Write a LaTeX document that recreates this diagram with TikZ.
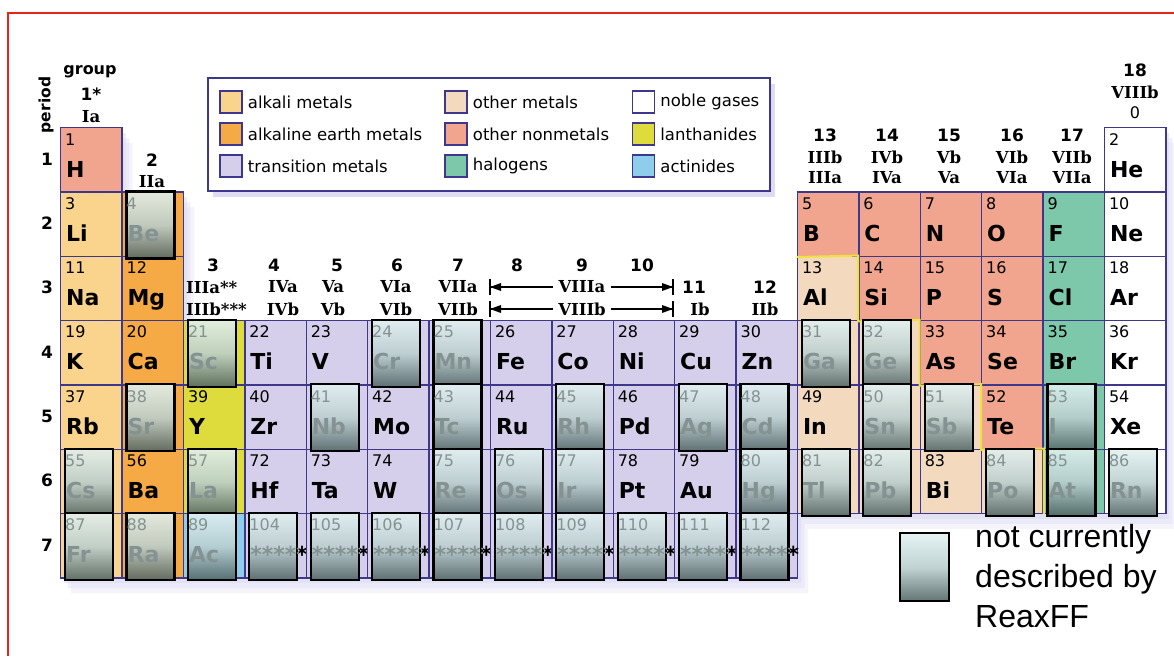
\documentclass[tikz,border=0pt]{standalone}
\usepackage{fontspec}
\setmainfont{DejaVu Sans}
\newfontfamily\romfont{DejaVu Serif}
\newfontfamily\arialfont{Liberation Sans}
\usetikzlibrary{positioning,shadows}
\definecolor{edge}{RGB}{62,56,140}
\definecolor{alkcol}{RGB}{250,212,140}
\definecolor{earthcol}{RGB}{245,170,70}
\definecolor{transcol}{RGB}{214,207,235}
\definecolor{metcol}{RGB}{243,218,190}
\definecolor{noncol}{RGB}{241,165,142}
\definecolor{halocol}{RGB}{125,200,170}
\definecolor{lancol}{RGB}{221,220,60}
\definecolor{actcol}{RGB}{142,205,235}
\definecolor{reaxtop}{RGB}{226,242,242}
\definecolor{reaxmid}{RGB}{186,206,206}
\definecolor{reaxbot}{RGB}{78,98,98}
\definecolor{reaxtext}{RGB}{132,146,146}
\definecolor{shadowcol}{RGB}{222,220,244}
\definecolor{framered}{RGB}{232,36,24}
\definecolor{stairyel}{RGB}{240,225,60}

\begin{document}
\begin{tikzpicture}[x=1pt,y=1pt,
    every node/.style={inner sep=0pt},
    cell/.style={draw=edge, line width=1.4pt, minimum width=61.4pt, minimum height=64.3pt, anchor=north west},
    alk/.style={fill=alkcol}, earth/.style={fill=earthcol}, trans/.style={fill=transcol},
    met/.style={fill=metcol}, non/.style={fill=noncol}, halo/.style={fill=halocol},
    lan/.style={fill=lancol}, act/.style={fill=actcol}, noble/.style={fill=white},
    znum/.style={anchor=base west, font=\fontsize{16}{18}\selectfont},
    zsym/.style={anchor=base west, font=\fontsize{22}{26}\selectfont\bfseries},
    reax/.style={draw=black, line width=2.2pt, top color=reaxtop, bottom color=reaxbot, middle color=reaxmid,
                 fill opacity=0.88, minimum width=48pt, minimum height=67pt, anchor=north west},
    grp/.style={font=\fontsize{17}{19}\selectfont\bfseries},
    rom/.style={font=\fontsize{16.5}{19}\selectfont\romfont\bfseries},
    swatch/.style={draw=edge, line width=1.4pt, minimum width=22pt, minimum height=22pt},
    legtext/.style={font=\fontsize{16.5}{19}\selectfont}]
\useasboundingbox (0,0) rectangle (1174,-656);
\fill[white] (0,0) rectangle (1174,-656);
\draw[framered, line width=2.6pt] (8,-656) -- (8,-13) -- (1174,-13);

\foreach \d/\o in {16/0.3,11/0.4,6/0.55}
  \fill[shadowcol, opacity=\o, shift={(0.7*\d,-\d)}] (60,-127) -- (121.4,-127) -- (121.4,-191.3) -- (182.8,-191.3)
    -- (182.8,-319.9) -- (796.8,-319.9) -- (796.8,-191.3) -- (1103.6,-191.3) -- (1103.6,-127) -- (1165,-127)
    -- (1165,-512.8) -- (796.8,-512.8) -- (796.8,-577.1) -- (60,-577.1) -- cycle;

\node[draw=edge, line width=2pt, fill=white, minimum width=562pt, minimum height=113pt, anchor=north west,
      drop shadow={shadow xshift=5pt, shadow yshift=-6pt, fill=shadowcol, opacity=1}] (legend) at (207,-77) {};
\node[swatch, alk] (swalk) at (231,-102) {};
\node[swatch, earth] (swearth) at (231,-134) {};
\node[swatch, trans] (swtrans) at (231,-166) {};
\node[swatch, met] (swmet) at (456,-102) {};
\node[swatch, non] (swnon) at (456,-134) {};
\node[swatch, halo] (swhalo) at (456,-166) {};
\node[swatch, noble] (swnoble) at (643.5,-102) {};
\node[swatch, lan] (swlan) at (643.5,-134) {};
\node[swatch, act] (swact) at (643.5,-166) {};
\node[legtext, right=5pt of swalk] (txalk) {alkali metals};
\node[legtext, right=5pt of swearth] (txearth) {alkaline earth metals};
\node[legtext, right=5pt of swtrans] (txtrans) {transition metals};
\node[legtext, right=5pt of swmet] (txmet) {other metals};
\node[legtext, right=5pt of swnon] (txnon) {other nonmetals};
\node[legtext, right=5pt of swhalo] (txhalo) {halogens};
\node[legtext, right=5pt of swnoble] (txnoble) {noble gases};
\node[legtext, right=5pt of swlan] (txlan) {lanthanides};
\node[legtext, right=5pt of swact] (txact) {actinides};

\foreach \c/\r/\z/\sym/\kind in {
    1/1/1/H/non, 18/1/2/He/noble,
    1/2/3/Li/alk, 2/2/4/Be/earth, 13/2/5/B/non, 14/2/6/C/non, 15/2/7/N/non, 16/2/8/O/non, 17/2/9/F/halo, 18/2/10/Ne/noble,
    1/3/11/Na/alk, 2/3/12/Mg/earth, 13/3/13/Al/met, 14/3/14/Si/non, 15/3/15/P/non, 16/3/16/S/non, 17/3/17/Cl/halo, 18/3/18/Ar/noble,
    1/4/19/K/alk, 2/4/20/Ca/earth, 3/4/21/Sc/lan, 4/4/22/Ti/trans, 5/4/23/V/trans, 6/4/24/Cr/trans, 7/4/25/Mn/trans,
    8/4/26/Fe/trans, 9/4/27/Co/trans, 10/4/28/Ni/trans, 11/4/29/Cu/trans, 12/4/30/Zn/trans,
    13/4/31/Ga/met, 14/4/32/Ge/met, 15/4/33/As/non, 16/4/34/Se/non, 17/4/35/Br/halo, 18/4/36/Kr/noble,
    1/5/37/Rb/alk, 2/5/38/Sr/earth, 3/5/39/Y/lan, 4/5/40/Zr/trans, 5/5/41/Nb/trans, 6/5/42/Mo/trans, 7/5/43/Tc/trans,
    8/5/44/Ru/trans, 9/5/45/Rh/trans, 10/5/46/Pd/trans, 11/5/47/Ag/trans, 12/5/48/Cd/trans,
    13/5/49/In/met, 14/5/50/Sn/met, 15/5/51/Sb/met, 16/5/52/Te/non, 17/5/53/I/halo, 18/5/54/Xe/noble,
    1/6/55/Cs/alk, 2/6/56/Ba/earth, 3/6/57/La/lan, 4/6/72/Hf/trans, 5/6/73/Ta/trans, 6/6/74/W/trans, 7/6/75/Re/trans,
    8/6/76/Os/trans, 9/6/77/Ir/trans, 10/6/78/Pt/trans, 11/6/79/Au/trans, 12/6/80/Hg/trans,
    13/6/81/Tl/met, 14/6/82/Pb/met, 15/6/83/Bi/met, 16/6/84/Po/met, 17/6/85/At/halo, 18/6/86/Rn/noble,
    1/7/87/Fr/alk, 2/7/88/Ra/earth, 3/7/89/Ac/act, 4/7/104/*****/trans, 5/7/105/*****/trans, 6/7/106/*****/trans,
    7/7/107/*****/trans, 8/7/108/*****/trans, 9/7/109/*****/trans, 10/7/110/*****/trans, 11/7/111/*****/trans, 12/7/112/*****/trans}
{
    \node[cell, \kind] (e\z) at ({60+61.4*(\c-1)},{-127-64.3*(\r-1)}) {};
    \node[znum] (n\z) at ([shift={(5,-18)}]e\z.north west) {\z};
    \node[zsym] (s\z) at ([shift={(6,-50)}]e\z.north west) {\sym};
}
\draw[stairyel, line width=2pt] (e5.south west) -- (e14.north west) -- (e14.south west) -- (e33.north west)
    -- (e33.south west) -- (e52.north west) -- (e52.south west) -- (e84.north east) -- (e84.south east);

\foreach \z/\sym/\kind in {4/Be/earth,21/Sc/lan,24/Cr/trans,25/Mn/trans,31/Ga/met,32/Ge/met,38/Sr/earth,41/Nb/trans,
                43/Tc/trans,45/Rh/trans,47/Ag/trans,48/Cd/trans,50/Sn/met,51/Sb/met,53/I/halo,
                55/Cs/alk,57/La/lan,75/Re/trans,76/Os/trans,77/Ir/trans,80/Hg/trans,81/Tl/met,82/Pb/met,84/Po/met,
                85/At/halo,86/Rn/noble,87/Fr/alk,88/Ra/earth,89/Ac/act,
                104/*****/trans,105/*****/trans,106/*****/trans,107/*****/trans,108/*****/trans,
                109/*****/trans,110/*****/trans,111/*****/trans,112/*****/trans} {
    \coordinate (q\z) at ([shift={(4,1)}]e\z.north west);
    \fill[\kind] (q\z) rectangle ++(48,-67);
    \node[reax] (r\z) at (q\z) {};
    \begin{scope}
        \clip (r\z.north west) rectangle (r\z.south east);
        \node[znum, text=reaxtext] at ([shift={(5,-18)}]e\z.north west) {\z};
        \node[zsym, text=reaxtext] at ([shift={(6,-50)}]e\z.north west) {\sym};
    \end{scope}
}

\node[font=\fontsize{15.5}{17}\selectfont\bfseries, rotate=90] (periodlbl) at (46,-105) {period};
\foreach \r in {1,...,7}
    \node[grp] (p\r) at (47,{-127-64.3*(\r-0.5)}) {\r};
\node[font=\fontsize{16}{18}\selectfont\bfseries] (grouplbl) at (90,-72) {group};
\node[grp] (g1) at (91,-94) {1*};
\node[rom] (g1-a) at (91,-117) {Ia};
\node[grp] (g2) at (152,-160) {2};
\node[rom] (g2-a) at (152,-182) {IIa};
\foreach \g/\x in {3/213,4/274,5/337,6/397,7/458,8/517,9/582,10/642}
    \node[grp] (g\g) at (\x,-265) {\g};
\node[rom, anchor=west] (g3-a) at (186,-287) {IIIa**};
\node[rom, anchor=west] (g3-b) at (186,-309) {IIIb***};
\foreach \g/\x/\ra/\rb in {4/283/IVa/IVb,5/333/Va/Vb,6/396/VIa/VIb,7/458/VIIa/VIIb} {
    \node[rom] (g\g-a) at (\x,-287) {\ra};
    \node[rom] (g\g-b) at (\x,-309) {\rb};
}
\node[rom] (viiia) at (582,-287) {VIIIa};
\node[rom] (viiib) at (582,-309) {VIIIb};
\coordinate (bar8a) at (490,-287);
\coordinate (bar11a) at (673,-287);
\coordinate (bar8b) at (490,-309);
\coordinate (bar11b) at (673,-309);
\foreach \lvl in {a,b} {
    \draw[line width=1.3pt] ([yshift=8]bar8\lvl) -- ([yshift=-8]bar8\lvl);
    \draw[line width=1.3pt] ([yshift=8]bar11\lvl) -- ([yshift=-8]bar11\lvl);
    \draw[line width=1.3pt, shorten <=5pt] (viii\lvl.west) -- (bar8\lvl);
    \draw[line width=1.3pt, shorten <=5pt] (viii\lvl.east) -- (bar11\lvl);
    \fill (bar8\lvl) -- ++(11,4) -- ++(0,-8) -- cycle;
    \fill (bar11\lvl) -- ++(-11,4) -- ++(0,-8) -- cycle;
}
\node[grp] (g11) at (694,-287) {11};
\node[rom] (g11-b) at (700,-309) {Ib};
\node[grp] (g12) at (765,-287) {12};
\node[rom] (g12-b) at (765,-309) {IIb};
\foreach \g/\x/\rb/\ra in {13/825/IIIb/IIIa,14/887/IVb/IVa,15/949/Vb/Va,16/1012/VIb/VIa,17/1072/VIIb/VIIa} {
    \node[grp] (g\g) at (\x,-135) {\g};
    \node[rom] (g\g-b) at (\x,-157) {\rb};
    \node[rom] (g\g-a) at (\x,-178) {\ra};
}
\node[grp] (g18) at (1135,-70) {18};
\node[rom] (g18-b) at (1135,-92) {VIIIb};
\node[font=\fontsize{16}{18}\selectfont] (g18-0) at (1135,-113) {0};

\node[reax, minimum width=49pt, minimum height=68pt] (reaxkey) at (899,-532) {};
\node[font=\arialfont\fontsize{32}{40}\selectfont, align=left, anchor=north west] (reaxtxt) at (975,-524)
    {not currently\\described by\\ReaxFF};
\end{tikzpicture}
\end{document}
